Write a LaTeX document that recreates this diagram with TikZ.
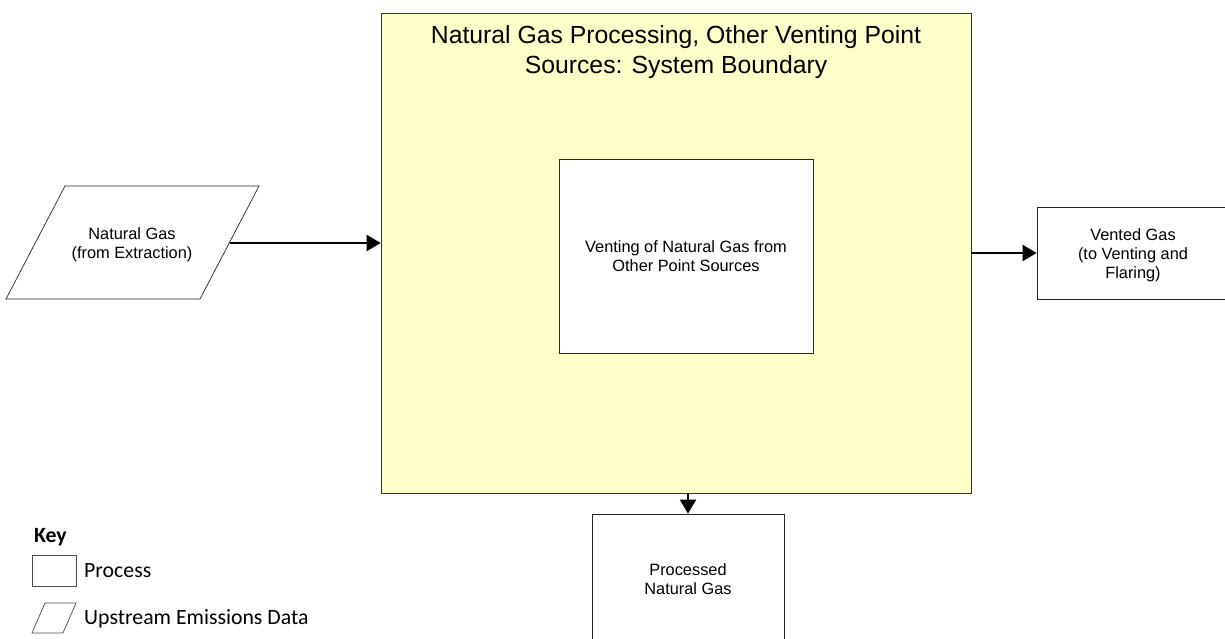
\documentclass[tikz,border=0pt]{standalone}
\usepackage{fontspec}
\setmainfont{Liberation Sans}
\newfontfamily\keyfont{Carlito}
\usetikzlibrary{arrows.meta}
\definecolor{boundfill}{RGB}{255,255,202}
\tikzset{
  proc/.style={draw=black!85, fill=white, align=center, font=\fontsize{9.3}{10.8}\selectfont},
  flow/.style={line width=1.5pt, -{Triangle[length=8pt,width=9pt]}},
  keytext/.style={anchor=west, font=\keyfont\fontsize{12.4}{14}\selectfont}
}
\begin{document}
\begin{tikzpicture}[x=0.02cm, y=-0.02cm]
		%%%%% START %%%%%
		\useasboundingbox (0,0) rectangle (1225,639);
		
		% system boundary
		\node[draw=black!80, fill=boundfill, minimum width=11.8cm, minimum height=9.6cm] (bound) at (676,253) {};
		\node[align=center, font=\fontsize{14.1}{17}\selectfont] (boundtitle) at (676,52) {Natural Gas Processing, Other Venting Point\\Sources: System Boundary};
		\node[proc, minimum width=5.08cm, minimum height=3.88cm] (venting) at (686,256) {Venting of Natural Gas from\\Other Point Sources};
		
		% input
		\draw[draw=black!85, fill=white] (65,186) -- (259,186) -- (200,299) -- (6,299) -- cycle;
		\node[align=center, font=\fontsize{9.3}{10.8}\selectfont] (natgas) at (132,245) {Natural Gas\\(from Extraction)};
		\coordinate (natgasout) at (230,243);
		
		% outputs
		\node[proc, minimum width=3.84cm, minimum height=1.84cm] (vented) at (1133,253) {};
		\node[align=center, font=\fontsize{9.3}{10.8}\selectfont] (ventedtext) at (1133,255) {Vented Gas\\(to Venting and\\Flaring)};
		\node[proc, minimum width=3.84cm, minimum height=2.56cm] (processed) at (688,578) {};
		\node[align=center, font=\fontsize{9.3}{10.8}\selectfont] (processedtext) at (688,579) {Processed\\Natural Gas};
		
		\draw[flow] (natgasout) -- (natgasout -| bound.west);
		\draw[flow] (vented.west -| bound.east) -- (vented.west);
		\draw[flow] (processed.north |- bound.south) -- (processed.north);
		
		% key
		\node[keytext, font=\keyfont\bfseries\fontsize{12.4}{14}\selectfont] (keytitle) at (28,537) {Key};
		\node[draw=black!70, minimum width=0.88cm, minimum height=0.62cm] (keyproc) at (54,570.5) {};
		\node[keytext] (keyproctext) at (78,571) {Process};
		\draw[draw=black!70] (45,603) -- (76,603) -- (63,633) -- (32,633) -- cycle;
		\node[keytext] (keydatatext) at (78,619) {Upstream Emissions Data};
		
		%%%%% END %%%%%
	\end{tikzpicture}
\end{document}
